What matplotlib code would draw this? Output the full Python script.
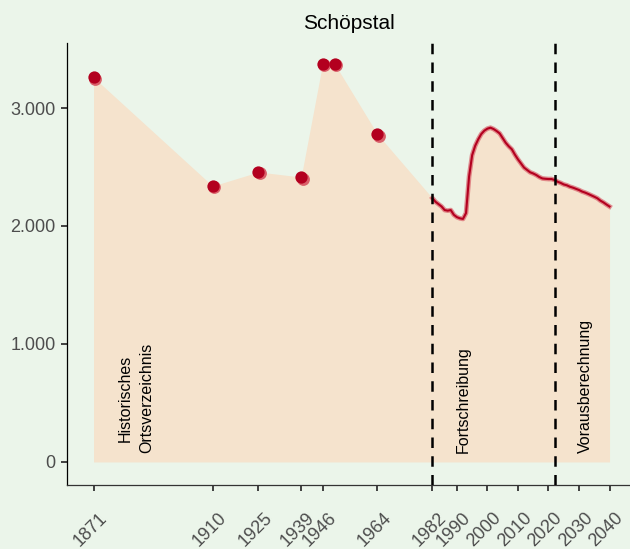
import matplotlib.pyplot as plt
import matplotlib.transforms as mtransforms
from matplotlib.ticker import FuncFormatter

plt.rcParams['font.family'] = ['Liberation Sans', 'DejaVu Sans']

# historische Ortsverzeichnis-Werte
hist_years = [1871, 1910, 1925, 1939, 1946, 1950, 1964]
hist_pop = [3260, 2339, 2458, 2415, 3373, 3373, 2778]

# Fortschreibung + Vorausberechnung (jaehrlich)
line_years = list(range(1982, 2041))
line_pop = [2236, 2205, 2185, 2165, 2135, 2130, 2135, 2095, 2075, 2065,
            2060, 2110, 2420, 2600, 2680, 2735, 2780, 2808, 2825, 2833,
            2822, 2805, 2785, 2745, 2705, 2675, 2650, 2605, 2565, 2530,
            2495, 2475, 2455, 2445, 2432, 2415, 2403, 2400, 2398, 2398,
            2390, 2375, 2365, 2352, 2345, 2333, 2325, 2315, 2305, 2292,
            2283, 2272, 2260, 2248, 2235, 2215, 2200, 2182, 2165]

xticks = [1871, 1910, 1925, 1939, 1946, 1964, 1982, 1990, 2000, 2010, 2020, 2030, 2040]
yticks = [0, 1000, 2000, 3000]
breaks = [1982, 2022]
labels = ["Historisches\nOrtsverzeichnis", "Fortschreibung", "Vorausberechnung"]
label_x = [1885, 1992, 2032]

bg = '#ebf5ea'
area = '#f5e3cd'
dark = '#b3001f'
light = '#d9606a'

fig = plt.figure(figsize=(6.3, 5.49), dpi=100, facecolor=bg)
ax = fig.add_axes([0.1063, 0.1166, 0.8937, 0.8051], facecolor=bg)

all_years = hist_years + line_years
all_pop = hist_pop + line_pop
ax.fill_between(all_years, 0, all_pop, color=area, lw=0, zorder=1)

for b in breaks:
    ax.axvline(b, color='black', lw=1.8, ls=(0, (4.2, 3.3)), zorder=4)

ax.plot(line_years, line_pop, color=light, lw=3.4, alpha=0.7, zorder=2)
ax.plot(line_years, line_pop, color=dark, lw=1.5, zorder=3)

off = mtransforms.offset_copy(ax.transData, fig=fig, x=1.5, y=-1.5, units='dots')
ax.scatter(hist_years, hist_pop, s=85, color=light, lw=0, transform=off, zorder=3)
ax.scatter(hist_years, hist_pop, s=78, color=dark, lw=0, zorder=3)

for x, t in zip(label_x, labels):
    ax.text(x, 75, t, rotation=90, ha='center', va='bottom', fontsize=11.5,
            linespacing=1.55, color='black', zorder=5)

ax.set_xlim(1862.3, 2046.7)
ax.set_ylim(-195, 3551)
ax.set_xticks(xticks)
ax.set_yticks(yticks)
ax.yaxis.set_major_formatter(FuncFormatter(lambda v, p: f"{int(v):,}".replace(",", ".")))
ax.tick_params(axis='both', length=4.5, width=1.3, color='#333333',
               labelcolor='#4d4d4d', labelsize=13)
ax.tick_params(axis='x', pad=13)
shift = mtransforms.ScaledTranslation(0.05, 0, fig.dpi_scale_trans)
for lab in ax.get_xticklabels():
    lab.set_rotation(45)
    lab.set_ha('right')
    lab.set_va('top')
    lab.set_rotation_mode('anchor')
    lab.set_transform(lab.get_transform() + shift)

for s in ['top', 'right']:
    ax.spines[s].set_visible(False)
ax.spines['left'].set_linewidth(0.9)
ax.spines['bottom'].set_linewidth(0.9)
ax.spines['bottom'].set_color('#333333')

ax.set_title("Schöpstal", fontsize=15, pad=10)

fig.savefig("out.png", dpi=100, facecolor=bg)
